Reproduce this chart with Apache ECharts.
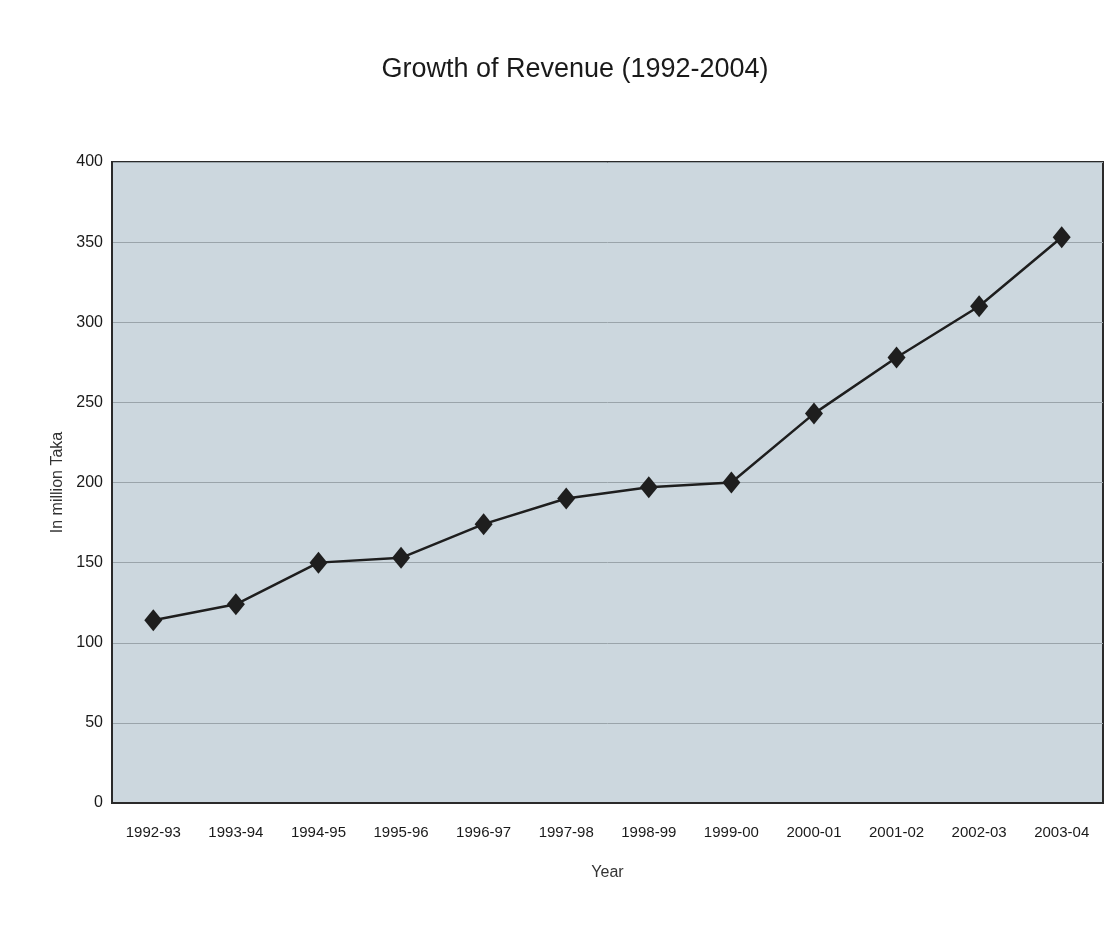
<!DOCTYPE html>
<html lang="en">
<head>
    <meta charset="UTF-8">
    <title>Growth of Revenue</title>
    <style>
        html, body { margin: 0; padding: 0; background: #ffffff; }
    </style>
</head>
<body>
<div id="main" style="width: 1111px;height:931px;"></div>
<script src="https://cdn.jsdelivr.net/npm/echarts@6/dist/echarts.min.js"></script>
<script type="text/javascript">
    var years = ["1992-93", "1993-94", "1994-95", "1995-96", "1996-97", "1997-98",
                 "1998-99", "1999-00", "2000-01", "2001-02", "2002-03", "2003-04"];
    // revenue, million Taka
    var revenue = [114, 124, 150, 153, 174, 190, 197, 200, 243, 278, 310, 353];
    var yTicks = [0, 50, 100, 150, 200, 250, 300, 350, 400];

    var myChart = echarts.init(document.getElementById("main"));

    var option = {
        backgroundColor: "#ffffff",
        animation: false,
        title: {
            text: "Growth of Revenue (1992-2004)",
            left: 570,
            textAlign: "center",
            top: 51,
            textStyle: {
                fontFamily: "Liberation Sans",
                fontSize: 27,
                fontWeight: "normal",
                color: "#1a1a1a"
            }
        },
        grid: {
            left: 112,
            top: 162,
            right: 8,
            bottom: 128,
            show: true,
            backgroundColor: "#ccd7de",
            borderColor: "#2a2a2a",
            borderWidth: 2
        },
        xAxis: {
            type: "category",
            data: years,
            boundaryGap: true,
            name: "Year",
            nameLocation: "middle",
            nameGap: 62,
            nameTextStyle: { fontFamily: "Liberation Sans", fontSize: 16, color: "#333" },
            axisLine: { lineStyle: { color: "#2a2a2a", width: 2 } },
            axisTick: { show: false },
            axisLabel: {
                margin: 22,
                interval: 0,
                fontFamily: "Liberation Sans",
                fontSize: 15,
                color: "#1a1a1a"
            }
        },
        yAxis: {
            type: "value",
            min: yTicks[0],
            max: yTicks[yTicks.length - 1],
            interval: 50,
            name: "In million Taka",
            nameLocation: "middle",
            nameGap: 44,
            nameTextStyle: { fontFamily: "Liberation Sans", fontSize: 16, color: "#333" },
            axisLine: { show: true, lineStyle: { color: "#2a2a2a", width: 2 } },
            axisTick: { show: false },
            axisLabel: {
                margin: 9,
                fontFamily: "Liberation Sans",
                fontSize: 16,
                color: "#1a1a1a"
            },
            splitLine: { show: true, lineStyle: { color: "#9aa4aa", width: 1 } }
        },
        series: [
            {
                name: "Revenue",
                type: "line",
                data: revenue,
                symbol: "diamond",
                symbolSize: [18, 22],
                lineStyle: { color: "#1e1e1e", width: 2.5 },
                itemStyle: { color: "#1e1e1e" }
            }
        ]
    };

    myChart.setOption(option);
</script>
</body>
</html>
